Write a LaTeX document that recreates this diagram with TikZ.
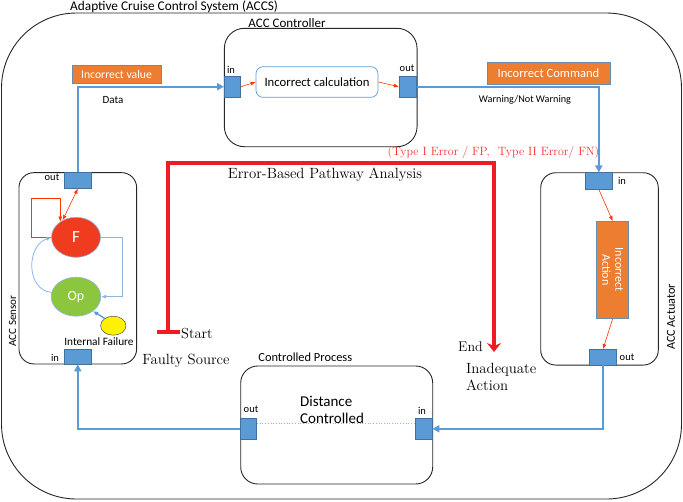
\documentclass[tikz,border=0pt]{standalone}
\usepackage{fontspec}
\usetikzlibrary{arrows.meta,shapes.geometric}
\newfontfamily\calfont{Carlito}
\definecolor{pblue}{HTML}{5B9BD5}
\definecolor{pborder}{HTML}{41719C}
\definecolor{orng}{HTML}{ED7D31}
\definecolor{rpath}{HTML}{EE1C25}
\definecolor{rtext}{HTML}{FF3030}
\definecolor{rthin}{HTML}{FF3300}
\definecolor{fred}{HTML}{F03C1E}
\definecolor{opgreen}{HTML}{8CC63F}
\definecolor{lblue}{HTML}{8EB4E3}
\tikzset{
  lbl/.style={font={\calfont\fontsize{10.5}{12}\selectfont}, inner sep=0},
  serif/.style={font={\fontsize{14.8}{17}\selectfont}, inner sep=0},
  blk/.style={draw=black!85, line width=0.9pt, inner sep=0},
  port/.style={draw=pborder, fill=pblue, line width=0.6pt, inner sep=0},
  obox/.style={draw=pborder!80, fill=orng, line width=0.6pt, inner sep=0, text=white},
  bline/.style={draw=pblue, line width=2.4pt},
  tline/.style={draw=lblue, line width=0.8pt},
  rline/.style={draw=rthin, line width=0.6pt},
}
\begin{document}
\begin{tikzpicture}[x=1pt,y=-1pt]
\useasboundingbox (0,0) rectangle (683,501);
% outer system
\draw[black!85, line width=0.9pt, rounded corners=75pt] (1.5,13) rectangle (681.5,499);
\node[lbl, font={\calfont\fontsize{13.3}{15}\selectfont}, anchor=west] (title) at (70,6.5) {Adaptive Cruise Control System (ACCS)};

% controller
\node[blk, rounded corners=20pt, minimum width=192.7pt, minimum height=118.4pt] (ctrl) at (320.7,87.5) {};
\node[lbl, font={\calfont\fontsize{13}{15}\selectfont}] (ctrllbl) at (287,23) {ACC Controller};
\node[draw=pblue, line width=0.7pt, rounded corners=7pt, minimum width=122pt, minimum height=30.6pt, inner sep=0,
      font={\calfont\fontsize{12.7}{14}\selectfont}] (calc) at (317,82) {Incorrect calculation};
\node[port, minimum width=16.4pt, minimum height=21pt] (cin) at (232.5,86.7) {};
\node[port, minimum width=17pt, minimum height=21pt] (cout) at (407.7,86.7) {};
\node[lbl] (cinl) at (231,70) {in};
\node[lbl] (coutl) at (407,68) {out};

% labels on top lines
\node[obox, minimum width=89pt, minimum height=18.3pt, font={\calfont\fontsize{11.7}{13}\selectfont}] (ival) at (116.5,74.2) {Incorrect value};
\node[lbl, font={\calfont\fontsize{11}{13}\selectfont}] (data) at (113,100) {Data};
\node[obox, minimum width=123pt, minimum height=21.3pt, font={\calfont\fontsize{12.6}{14}\selectfont}] (icmd) at (548.5,73.3) {Incorrect Command};
\node[lbl, font={\calfont\fontsize{10.2}{12}\selectfont}] (warn) at (525,100) {Warning/Not Warning};
\node[serif, text=rtext, font={\fontsize{12}{14}\selectfont}] (types) at (493.5,153) {(Type I Error / FP,\ \ Type II Error/ FN)};
\node[serif] (ebpa) at (325,175) {Error-Based Pathway Analysis};

% sensor
\node[blk, rounded corners=15pt, minimum width=117.7pt, minimum height=191.3pt] (sens) at (77.8,268.3) {};
\node[port, minimum width=27.7pt, minimum height=15.6pt] (sout) at (77.8,180.5) {};
\node[port, minimum width=27.7pt, minimum height=14.7pt] (sin) at (77.8,356.7) {};
\node[lbl] (soutl) at (52,177) {out};
\node[lbl] (sinl) at (55,358) {in};
\node[ellipse, draw=lblue, line width=0.6pt, fill=fred, minimum width=49pt, minimum height=40pt, inner sep=0, text=white,
      font={\calfont\fontsize{17}{18}\selectfont}] (F) at (76,237.3) {F};
\node[ellipse, draw=lblue, line width=0.6pt, fill=opgreen, minimum width=49.6pt, minimum height=39pt, inner sep=0, text=white,
      font={\calfont\fontsize{14}{16}\selectfont}] (Op) at (76,296.7) {Op};
\node[ellipse, draw=black!70, line width=0.5pt, fill=yellow, minimum width=25.4pt, minimum height=19pt, inner sep=0] (Y) at (113.3,325.7) {};
\node[lbl, font={\calfont\fontsize{11.3}{13}\selectfont}] (ifail) at (99,341.3) {Internal Failure};
\node[lbl, rotate=90, font={\calfont\fontsize{11}{13}\selectfont}] (senslbl) at (12.5,321) {ACC Sensor};

\coordinate (lp1) at (31.7,198.3);
\coordinate (lp2) at (122.3,266);
\draw[rline, -{Latex[length=5pt,width=4pt]}] (F.west) -| (lp1) -| (F.135);
\draw[rline, {Latex[length=5pt,width=4pt]}-{Latex[length=5pt,width=4pt]}] (F.128) -- (sout.south);
\draw[tline, -{Latex[length=5pt,width=4pt]}] (F.east) -| (lp2) |- (Op.east);
\draw[tline, -{Latex[length=5pt,width=4pt]}] (Op.170) .. controls (26,290) and (26,246) .. (F.west);
\draw[draw=pblue, line width=1.4pt, -{Latex[length=5pt,width=5pt]}] (Y.140) -- (Op.-40);

% actuator
\node[blk, rounded corners=15pt, minimum width=117.6pt, minimum height=192.3pt] (act) at (599.5,268.9) {};
\node[port, minimum width=27.7pt, minimum height=16.3pt] (ain) at (598.8,180.9) {};
\node[port, minimum width=27.4pt, minimum height=15.7pt] (aout) at (603,357.2) {};
\node[lbl] (ainl) at (622,181) {in};
\node[lbl] (aoutl) at (627,357) {out};
\node[obox, minimum width=32pt, minimum height=97pt] (iact) at (612.7,269.8) {};
\node[lbl, rotate=-90, align=center, text=white, font={\calfont\fontsize{12}{13}\selectfont}] (iacttxt) at (612.7,269.8) {Incorrect\\Action};
\node[lbl, rotate=90, font={\calfont\fontsize{12.2}{14}\selectfont}] (actlbl) at (671,317) {ACC Actuator};
\draw[rline, -{Latex[length=5pt,width=4pt]}] (ain.south) -- (iact.north);
\draw[rline, -{Latex[length=5pt,width=4pt]}] (iact.south) -- (aout.north);

% controlled process
\node[blk, rounded corners=17pt, minimum width=192pt, minimum height=118pt] (proc) at (336.7,425) {};
\node[lbl, font={\calfont\fontsize{12.4}{14}\selectfont}] (proclbl) at (305.3,357.7) {Controlled Process};
\node[port, minimum width=16pt, minimum height=21pt] (pout) at (248.7,428.8) {};
\node[port, minimum width=16.7pt, minimum height=21pt] (pin) at (423.7,428.8) {};
\node[lbl] (poutl) at (251,409) {out};
\node[lbl] (pinl) at (422,411) {in};
\draw[draw=lblue, line width=0.7pt, dotted] ([yshift=5.5pt]pout.east) -- ([yshift=5.5pt]pin.west);
\node[lbl, anchor=north west, align=left, font={\calfont\fontsize{15}{17}\selectfont}] (dist) at (300,396) {Distance\\Controlled};

% blue connectors
\draw[bline, -{Triangle[length=7pt,width=7pt]}] (sout.north) |- (cin.west);
\draw[bline, -{Triangle[length=7pt,width=7pt]}] (cout.east) -| (ain.north);
\draw[bline, -{Triangle[length=7pt,width=7pt]}] (aout.south) |- (pin.east);
\draw[bline, -{Triangle[length=7pt,width=7pt]}] (pout.west) -| (sin.south);
\draw[rline, -{Latex[length=5pt,width=4pt]}] (cin.east) -- (calc.west);
\draw[rline, -{Latex[length=5pt,width=4pt]}] (calc.east) -- (cout.west);

% error-based pathway
\coordinate (st) at (168,334);
\coordinate (tr) at (494,163);
\coordinate (en) at (494,352);
\draw[draw=rpath, line width=4pt, {Bar[width=23pt]}-{Stealth[length=9pt,width=14pt,inset=3pt]}] (st) |- (tr) -- (en);
\node[serif, font={\fontsize{14.5}{16}\selectfont}, anchor=west] (start) at (181,334) {Start};
\node[serif, anchor=center] (fsrc) at (186,361) {Faulty Source};
\node[serif, font={\fontsize{14}{16}\selectfont}, anchor=east] (end) at (483,347) {End};
\node[serif, anchor=north west, align=left] (inad) at (466,363) {Inadequate\\Action};
\end{tikzpicture}
\end{document}
